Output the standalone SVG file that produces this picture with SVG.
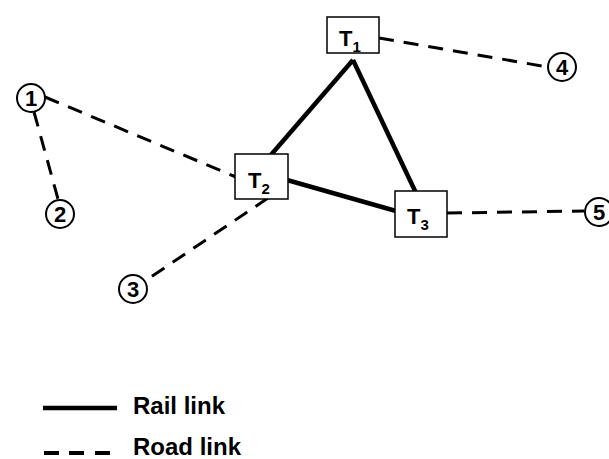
<svg xmlns="http://www.w3.org/2000/svg" width="609" height="459" viewBox="0 0 609 459">
<style>
.rail{stroke:#000;stroke-width:4.5;fill:none}
.road{stroke:#000;stroke-width:3;fill:none;stroke-dasharray:15 10}
.lgd{stroke:#000;stroke-width:4;fill:none}
.box{fill:#fff;stroke:#000;stroke-width:1.5}
.circ{fill:#fff;stroke:#000;stroke-width:2}
.t{font-family:"Liberation Sans",Arial,sans-serif;font-weight:bold;font-size:22px;fill:#000}
.sub{font-size:15px}
.n{font-family:"Liberation Sans",Arial,sans-serif;font-weight:bold;font-size:22px;fill:#000;text-anchor:middle}
.lg{font-family:"Liberation Sans",Arial,sans-serif;font-weight:bold;font-size:24px;fill:#000}
</style>
<rect width="609" height="459" fill="#fff"/>
<g id="connectors">
<line class="rail" x1="353" y1="60" x2="270" y2="156"/>
<line class="rail" x1="353" y1="60" x2="416" y2="193"/>
<line class="rail" x1="287" y1="180" x2="396" y2="211"/>
<line class="road" x1="45" y1="97" x2="236" y2="177"/>
<line class="road" x1="34" y1="112" x2="58" y2="199"/>
<line class="road" x1="268" y1="198" x2="145" y2="281"/>
<line class="road" x1="379" y1="38" x2="548" y2="67"/>
<line class="road" x1="447" y1="213" x2="584" y2="211"/>
</g>
<g id="T1"><rect class="box" x="327" y="17" width="52" height="36"/><text class="t" x="339" y="46">T<tspan class="sub" dy="6">1</tspan></text></g>
<g id="T2"><rect class="box" x="235" y="154" width="53" height="45"/><text class="t" x="248" y="188">T<tspan class="sub" dy="6">2</tspan></text></g>
<g id="T3"><rect class="box" x="395" y="191" width="52" height="46"/><text class="t" x="407" y="224">T<tspan class="sub" dy="6">3</tspan></text></g>
<g id="n1"><circle class="circ" cx="31" cy="98" r="14"/><text class="n" x="31" y="106">1</text></g>
<g id="n2"><circle class="circ" cx="60" cy="214" r="14"/><text class="n" x="60" y="222">2</text></g>
<g id="n3"><circle class="circ" cx="133" cy="289" r="14"/><text class="n" x="133" y="297">3</text></g>
<g id="n4"><circle class="circ" cx="562" cy="67" r="14"/><text class="n" x="562" y="75">4</text></g>
<g id="n5"><circle class="circ" cx="599" cy="212" r="14"/><text class="n" x="599" y="220">5</text></g>
<g id="legend">
<line class="rail" x1="43" y1="408" x2="117" y2="408"/>
<text class="lg" x="133" y="414">Rail link</text>
<path class="lgd" d="M44 453H59M69 453H84M95 453H110"/>
<text class="lg" x="133" y="455">Road link</text>
</g>
</svg>
